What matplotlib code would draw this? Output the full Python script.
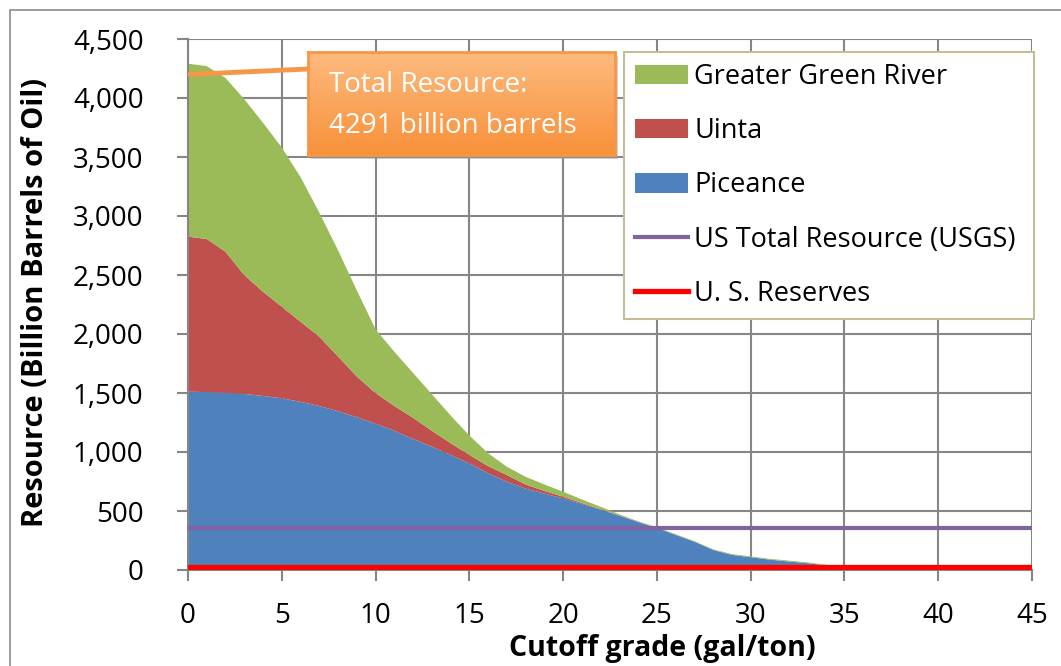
import numpy as np
import matplotlib
matplotlib.use("Agg")
import matplotlib.pyplot as plt
from matplotlib.ticker import FuncFormatter
from matplotlib.lines import Line2D
from matplotlib.patches import Patch, Rectangle
from matplotlib.colors import LinearSegmentedColormap

plt.rcParams['font.family'] = ['Open Sans', 'DejaVu Sans']

# cutoff grade (gal/ton)
grade = list(range(0, 46))

# billion barrels, by basin (stacked)
piceance = [1511, 1508, 1502, 1492, 1475, 1455, 1425, 1390, 1345, 1295,
            1240, 1180, 1110, 1045, 975, 904, 820, 748, 690, 648,
            607, 560, 512, 460, 407, 357, 298, 240, 170, 128,
            108, 88, 73, 58, 40, 20, 0, 0, 0, 0,
            0, 0, 0, 0, 0, 0]
uinta = [1314, 1297, 1195, 1008, 883, 776, 679, 587, 465, 345,
         260, 210, 180, 135, 101, 71, 61, 57, 35, 22,
         14, 8, 4, 2, 1, 0, 0, 0, 0, 0,
         0, 0, 0, 0, 0, 0, 0, 0, 0, 0,
         0, 0, 0, 0, 0, 0]
green_river = [1466, 1465, 1473, 1490, 1432, 1349, 1226, 1053, 900, 730,
               540, 460, 380, 310, 234, 165, 109, 70, 65, 55,
               42, 30, 20, 10, 5, 5, 5, 5, 5, 7,
               7, 7, 7, 7, 5, 5, 0, 0, 0, 0,
               0, 0, 0, 0, 0, 0]

usgs_total = 360
us_reserves = 22
total_resource = 4291

c_blue = '#4F81BD'
c_red = '#C0504D'
c_green = '#9BBB59'
c_purple = '#8064A2'
c_res = '#FF0000'
c_grid = '#868686'

fig = plt.figure(figsize=(10.61, 6.66), dpi=100)
# outer chart border
fig.patches.append(Rectangle((10/1061, -0.1), 1.2, 1 - 10/666 + 0.1,
                             transform=fig.transFigure, fill=False,
                             edgecolor='#8c8c8c', linewidth=1.2))

ax = fig.add_axes([188/1061, 1 - 570/666, 844/1061, 531/666])
ax.set_zorder(0)

ax.stackplot(grade, piceance, uinta, green_river,
             colors=[c_blue, c_red, c_green], linewidth=0, zorder=2)
ax.axhline(usgs_total, color=c_purple, linewidth=3, zorder=3)
ax.axhline(us_reserves, color=c_res, linewidth=3.8, zorder=3)

ax.set_xlim(0, 45)
ax.set_ylim(0, 4500)
ax.set_xticks(range(0, 46, 5))
ax.set_yticks(range(0, 4501, 500))
ax.yaxis.set_major_formatter(FuncFormatter(lambda v, p: f'{int(v):,}'))
ax.grid(True, color=c_grid, linewidth=1.5, zorder=0)
ax.set_axisbelow(True)
for s in ['top', 'right']:
    ax.spines[s].set_visible(False)
for s in ['left', 'bottom']:
    ax.spines[s].set_color(c_grid)
    ax.spines[s].set_linewidth(1.5)
ax.tick_params(axis='both', direction='out', color=c_grid, width=1.5,
               length=8, labelsize=20, labelcolor='black')
ax.tick_params(axis='x', pad=15)
ax.tick_params(axis='y', pad=24)

ax.set_ylabel('Resource (Billion Barrels of Oil)', fontsize=21,
              fontweight='bold')
ax.yaxis.set_label_coords(-0.163, 0.503)
ax.set_xlabel('Cutoff grade (gal/ton)', fontsize=20.5, fontweight='bold')
ax.xaxis.set_label_coords(0.562, -0.12)

handles = [Patch(facecolor=c_green, edgecolor='none', label='Greater Green River'),
           Patch(facecolor=c_red, edgecolor='none', label='Uinta'),
           Patch(facecolor=c_blue, edgecolor='none', label='Piceance'),
           Line2D([], [], color=c_purple, linewidth=3, label='US Total Resource (USGS)'),
           Line2D([], [], color=c_res, linewidth=3.8, label='U. S. Reserves')]
leg = ax.legend(handles=handles, loc='upper left',
                bbox_to_anchor=(0.517, 0.478, 0.4855, 0.4975), mode='expand',
                fontsize=19.5, frameon=True, fancybox=False, framealpha=1,
                handlelength=1.96, handleheight=0.74, handletextpad=0.22,
                labelspacing=0.97, borderpad=0.4, borderaxespad=0)
leg.get_frame().set_edgecolor('#C4BD97')
leg.get_frame().set_linewidth(1.5)
leg.set_zorder(5)

# callout box with gradient and soft shadow
shadow = Rectangle((311/1061, 1 - 159/666), 307/1061, 103/666,
                   transform=fig.transFigure, facecolor='#9a9a9a',
                   alpha=0.45, edgecolor='none', zorder=1)
fig.patches.append(shadow)
bx = fig.add_axes([308/1061, 1 - 155/666, 307/1061, 103/666])
bx.set_zorder(2)
grad = np.linspace(0, 1, 100).reshape(-1, 1)
cmap = LinearSegmentedColormap.from_list('og', ['#FDBA7E', '#F8913A'])
bx.imshow(grad, aspect='auto', cmap=cmap, extent=[0, 1, 0, 1], origin='upper')
bx.set_xticks([])
bx.set_yticks([])
for s in bx.spines.values():
    s.set_color('#F79646')
    s.set_linewidth(2)
bx.text(0.07, 0.68, 'Total Resource:', color='white', fontsize=20,
        va='center', ha='left', transform=bx.transAxes)
bx.text(0.07, 0.28, f'{total_resource} billion barrels', color='white',
        fontsize=20, va='center', ha='left', transform=bx.transAxes)

ax.annotate('', xy=(0.1, 4200), xycoords='data',
            xytext=(308/1061, 1 - 69/666), textcoords='figure fraction',
            arrowprops=dict(arrowstyle='-', color='#F79646', linewidth=3.5,
                            shrinkA=0, shrinkB=0), zorder=6)

fig.savefig('out.png', dpi=100)
